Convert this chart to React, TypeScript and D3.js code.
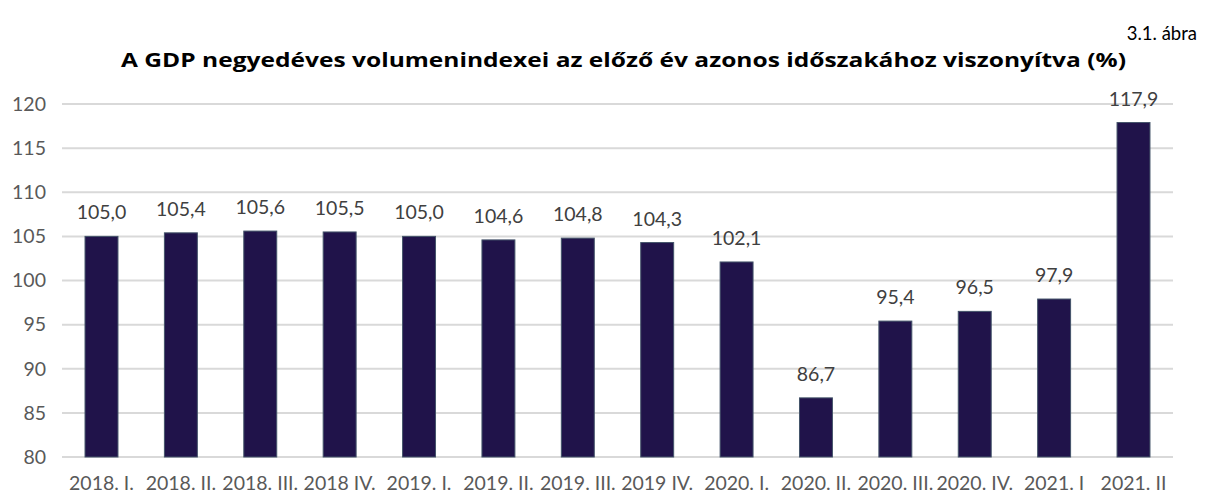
import React from "react";
import * as d3 from "d3";

const categories = ["2018. I.", "2018. II.", "2018. III.", "2018 IV.", "2019. I.", "2019. II.", "2019. III.", "2019 IV.", "2020. I.", "2020. II.", "2020. III.", "2020. IV.", "2021. I", "2021. II"];
const values = [105.0, 105.4, 105.6, 105.5, 105.0, 104.6, 104.8, 104.3, 102.1, 86.7, 95.4, 96.5, 97.9, 117.9];
const yTicks = [80, 85, 90, 95, 100, 105, 110, 115, 120];
const title = "A GDP negyedéves volumenindexei az előző év azonos időszakához viszonyítva (%)";
const figLabel = "3.1. ábra";

const W = 1211, H = 497;
const left = 62, right = 1173, top = 104, bottom = 457;
const font = "Lato, 'Open Sans', sans-serif";

export default function App() {
  const x = d3.scaleBand<string>().domain(categories).range([left, right]).paddingInner(0.585).paddingOuter(0.29);
  const y = d3.scaleLinear().domain([80, 120]).range([bottom, top]);
  const fmt = (v: number) => v.toFixed(1).replace(".", ",");
  return (
    <svg width={W} height={H} style={{ position: "absolute", left: 0, top: 0, background: "#fff" }}>
      <text x={1197} y={40} textAnchor="end" fontFamily={font} fontSize={18.5} fill="#000">{figLabel}</text>
      <text x={121} y={67} textLength={1005} lengthAdjust="spacingAndGlyphs" fontFamily="'Open Sans', sans-serif" fontSize={19.5} fontWeight="bold" fill="#000">{title}</text>
      {yTicks.map((t) => (
        <g key={t}>
          <line x1={left} x2={right} y1={y(t)} y2={y(t)} stroke="#d9d9d9" strokeWidth={2} />
          <text x={46} y={y(t)} dy="0.35em" textAnchor="end" fontFamily={font} fontSize={19.5} fill="#595959">{t}</text>
        </g>
      ))}
      {categories.map((c, i) => (
        <g key={c}>
          <rect x={x(c)!} y={y(values[i])} width={x.bandwidth()} height={y(80) - y(values[i])} fill="#20134a" stroke="#44546a" strokeWidth={1} />
          <text x={x(c)! + x.bandwidth() / 2} y={y(values[i]) - 17} textAnchor="middle" fontFamily={font} fontSize={19.5} fill="#404040">{fmt(values[i])}</text>
          <text x={x(c)! + x.bandwidth() / 2} y={490} textAnchor="middle" fontFamily={font} fontSize={19.5} fill="#595959">{c}</text>
        </g>
      ))}
    </svg>
  );
}
